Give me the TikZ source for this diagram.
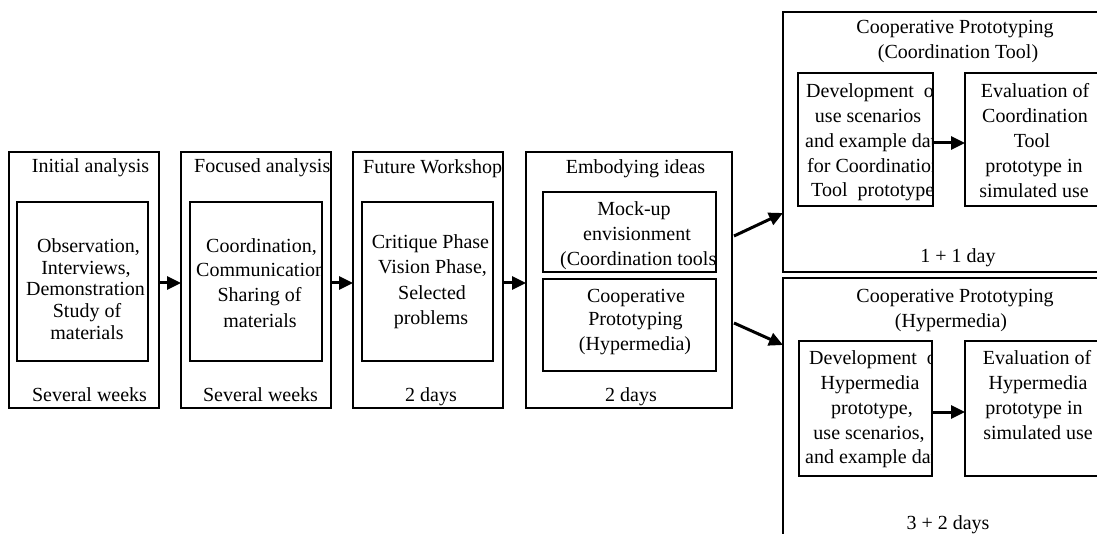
\documentclass[tikz,border=0pt]{standalone}
\usepackage{fontspec}
\setmainfont{Liberation Serif}
\usetikzlibrary{arrows.meta}
\begin{document}
\begin{tikzpicture}[x=1pt,y=-1pt,
  box/.style={draw, line width=1.2pt, inner sep=0pt, outer sep=0pt},
  ln/.style={font=\fontsize{20}{24}\selectfont, inner sep=0pt, anchor=base},
  lnw/.style={ln, anchor=base west},
  arr/.style={line width=3pt, -{Triangle[length=14pt,width=13pt]}}]
\useasboundingbox (0,0) rectangle (1097,534);
\fill[white] (0,0) rectangle (1097,534);
\clip (0,0) rectangle (1097,534);

% phase frames
\node[box, minimum width=150pt, minimum height=256pt] (b1) at (84,280) {};
\node[box, minimum width=131pt, minimum height=159pt] (i1) at (82.5,281.5) {};
\node[box, minimum width=150pt, minimum height=256pt] (b2) at (256,280) {};
\node[box, minimum width=132pt, minimum height=159pt] (i2) at (256,281.5) {};
\node[box, minimum width=150pt, minimum height=256pt] (b3) at (428,280) {};
\node[box, minimum width=131pt, minimum height=159pt] (i3) at (427.5,281.5) {};
\node[box, minimum width=206pt, minimum height=256pt] (b4) at (629,280) {};
\node[box, minimum width=173pt, minimum height=80pt] (i4a) at (629.5,232) {};
\node[box, minimum width=173pt, minimum height=92pt] (i4b) at (629.5,325) {};
\node[box, minimum width=348pt, minimum height=260pt] (b5) at (957,142) {};
\node[box, minimum width=135pt, minimum height=133pt] (i5a) at (865.5,139.5) {};
\node[box, minimum width=138pt, minimum height=133pt] (i5b) at (1034,139.5) {};
\node[box, minimum width=348pt, minimum height=282pt] (b6) at (957,419) {};
\node[box, minimum width=133pt, minimum height=135pt] (i6a) at (865.5,408.5) {};
\node[box, minimum width=138pt, minimum height=135pt] (i6b) at (1034,408.5) {};

% initial analysis
\node[ln] (t1) at (90.5,173) {Initial analysis};
\node[ln] (t1a) at (88.5,253) {Observation,};
\node[ln] (t1b) at (86,274.5) {Interviews,};
\node[ln] (t1c) at (85.5,296) {Demonstration};
\node[ln] (t1d) at (87,318) {Study of};
\node[ln] (t1e) at (87,339) {materials};
\node[ln] (t1f) at (89.5,401) {Several weeks};

% focused analysis
\begin{scope}
  \clip (b2.north west) rectangle (b2.south east);
  \node[lnw] (t2) at (194,173) {Focused analysis};
\end{scope}
\node[ln] (t2a) at (261.5,253) {Coordination,};
\begin{scope}
  \clip (i2.north west) rectangle (i2.south east);
  \node[lnw] (t2b) at (196,277) {Communication,};
\end{scope}
\node[ln] (t2c) at (259.5,302) {Sharing of};
\node[ln] (t2d) at (260,327) {materials};
\node[ln] (t2e) at (260.5,401) {Several weeks};

% future workshop
\begin{scope}
  \clip (b3.north west) rectangle (b3.south east);
  \node[lnw] (t3) at (363,174) {Future Workshop};
\end{scope}
\node[ln] (t3a) at (430.5,249) {Critique Phase};
\node[ln] (t3b) at (432.5,274) {Vision Phase,};
\node[ln] (t3c) at (432,300) {Selected};
\node[ln] (t3d) at (431,325) {problems};
\node[ln] (t3e) at (431,401) {2 days};

% embodying ideas
\node[ln] (t4) at (635.5,174) {Embodying ideas};
\node[ln] (t4a) at (634,216) {Mock-up};
\node[ln] (t4b) at (637,241) {envisionment};
\begin{scope}
  \clip (i4a.north west) rectangle (i4a.south east);
  \node[lnw] (t4c) at (560,266) {(Coordination tools)};
\end{scope}
\node[ln] (t4d) at (636,303) {Cooperative};
\node[ln] (t4e) at (635.5,326) {Prototyping};
\node[ln] (t4f) at (635,351) {(Hypermedia)};
\node[ln] (t4g) at (631,401) {2 days};

% cooperative prototyping: coordination tool
\node[ln] (t5) at (955,34) {Cooperative Prototyping};
\node[ln] (t5b) at (958,59) {(Coordination Tool)};
\begin{scope}
  \clip (i5a.north west) rectangle (i5a.south east);
  \node[lnw] (t5c) at (806,98) {Development\ \ of};
  \node[ln] (t5d) at (868,123) {use scenarios};
  \node[lnw] (t5e) at (805,148) {and example data};
  \node[lnw] (t5f) at (807,173) {for Coordination};
  \node[lnw] (t5g) at (811,197) {Tool\ \ prototype};
\end{scope}
\node[ln] (t5h) at (1035,98) {Evaluation of};
\node[ln] (t5i) at (1035,123) {Coordination};
\node[ln] (t5j) at (1032,148) {Tool};
\node[ln] (t5k) at (1034,173) {prototype in};
\node[ln] (t5l) at (1034,198) {simulated use};
\node[ln] (t5m) at (958,263) {1 + 1 day};

% cooperative prototyping: hypermedia
\node[ln] (t6) at (955,303) {Cooperative Prototyping};
\node[ln] (t6b) at (951,328) {(Hypermedia)};
\begin{scope}
  \clip (i6a.north west) rectangle (i6a.south east);
  \node[lnw] (t6c) at (809,364) {Development\ \ of};
  \node[ln] (t6d) at (870,389) {Hypermedia};
  \node[ln] (t6e) at (872,414) {prototype,};
  \node[ln] (t6f) at (869,439) {use scenarios,};
  \node[lnw] (t6g) at (805,463) {and example data};
\end{scope}
\node[ln] (t6h) at (1037,364) {Evaluation of};
\node[ln] (t6i) at (1038,389) {Hypermedia};
\node[ln] (t6j) at (1034,414) {prototype in};
\node[ln] (t6k) at (1038,439) {simulated use};
\node[ln] (t6l) at (948,529) {3 + 2 days};

% flow arrows
\draw[arr] ([yshift=-3pt]b1.east) -- ([yshift=-3pt]b2.west);
\draw[arr] ([yshift=-3pt]b2.east) -- ([yshift=-3pt]b3.west);
\draw[arr] ([yshift=-3pt]b3.east) -- ([yshift=-3pt]b4.west);
\draw[arr] ([xshift=2pt,yshift=44pt]b4.east) -- ([yshift=-71pt]b5.west);
\draw[arr] ([xshift=2pt,yshift=-43pt]b4.east) -- ([yshift=74pt]b6.west);
\draw[arr] ([yshift=-3.5pt]i5a.east) -- ([yshift=-3.5pt]i5b.west);
\draw[arr] ([yshift=-3.5pt]i6a.east) -- ([yshift=-3.5pt]i6b.west);
\end{tikzpicture}
\end{document}
